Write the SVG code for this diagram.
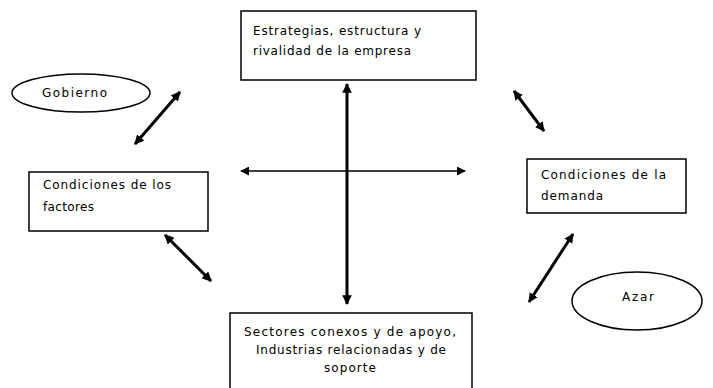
<svg xmlns="http://www.w3.org/2000/svg" width="713" height="388" viewBox="0 0 713 388">
<style>
.box{fill:#fff;stroke:#000;stroke-width:1.5}
.ell{fill:#fff;stroke:#000;stroke-width:1.5}
.t{font-family:"DejaVu Sans","Liberation Sans",sans-serif;font-size:12px;fill:#000}
.thick{stroke:#000;stroke-width:3;fill:none}
.thin{stroke:#000;stroke-width:1.5;fill:none}
</style>
<defs>
<marker id="ah" viewBox="0 0 10 10" refX="9" refY="5" markerWidth="3.2" markerHeight="3.2" orient="auto-start-reverse" markerUnits="strokeWidth">
<path d="M0,0 L10,5 L0,10 Z" fill="#000"/>
</marker>
<marker id="ahs" viewBox="0 0 10 10" refX="9" refY="5" markerWidth="6" markerHeight="6" orient="auto-start-reverse" markerUnits="strokeWidth">
<path d="M0,0 L10,5 L0,10 Z" fill="#000"/>
</marker>
</defs>
<rect width="713" height="388" fill="#fff"/>
<g id="connectors">
<line class="thick" x1="347" y1="84" x2="347" y2="304" marker-start="url(#ah)" marker-end="url(#ah)"/>
<line class="thin" x1="241" y1="171" x2="465" y2="171" marker-start="url(#ahs)" marker-end="url(#ahs)"/>
<line class="thick" x1="135" y1="144" x2="180" y2="92" marker-start="url(#ah)" marker-end="url(#ah)"/>
<line class="thick" x1="514" y1="91" x2="544" y2="131" marker-start="url(#ah)" marker-end="url(#ah)"/>
<line class="thick" x1="165" y1="235" x2="211" y2="281" marker-start="url(#ah)" marker-end="url(#ah)"/>
<line class="thick" x1="573" y1="234" x2="529" y2="302" marker-start="url(#ah)" marker-end="url(#ah)"/>
</g>
<g id="estrategia">
<rect class="box" x="241" y="11" width="235" height="69"/>
<text class="t" x="253" y="35" textLength="168" lengthAdjust="spacing">Estrategias, estructura y</text>
<text class="t" x="253" y="55" textLength="158" lengthAdjust="spacing">rivalidad de la empresa</text>
</g>
<g id="gobierno">
<ellipse class="ell" cx="81" cy="93" rx="69" ry="19"/>
<text class="t" x="42" y="97" textLength="65" lengthAdjust="spacing">Gobierno</text>
</g>
<g id="factores">
<rect class="box" x="29" y="172" width="179" height="59"/>
<text class="t" x="43" y="189" textLength="128" lengthAdjust="spacing">Condiciones de los</text>
<text class="t" x="43" y="211" textLength="51" lengthAdjust="spacing">factores</text>
</g>
<g id="demanda">
<rect class="box" x="527" y="159" width="159" height="54"/>
<text class="t" x="541" y="179" textLength="125" lengthAdjust="spacing">Condiciones de la</text>
<text class="t" x="541" y="200" textLength="62" lengthAdjust="spacing">demanda</text>
</g>
<g id="azar">
<ellipse class="ell" cx="637" cy="301" rx="65" ry="29"/>
<text class="t" x="622" y="301" textLength="32" lengthAdjust="spacing">Azar</text>
</g>
<g id="sectores">
<rect class="box" x="230" y="313" width="242" height="80"/>
<text class="t" x="244" y="336" textLength="212" lengthAdjust="spacing">Sectores conexos y de apoyo,</text>
<text class="t" x="256" y="354" textLength="190" lengthAdjust="spacing">Industrias relacionadas y de</text>
<text class="t" x="324" y="372" textLength="52" lengthAdjust="spacing">soporte</text>
</g>
</svg>
